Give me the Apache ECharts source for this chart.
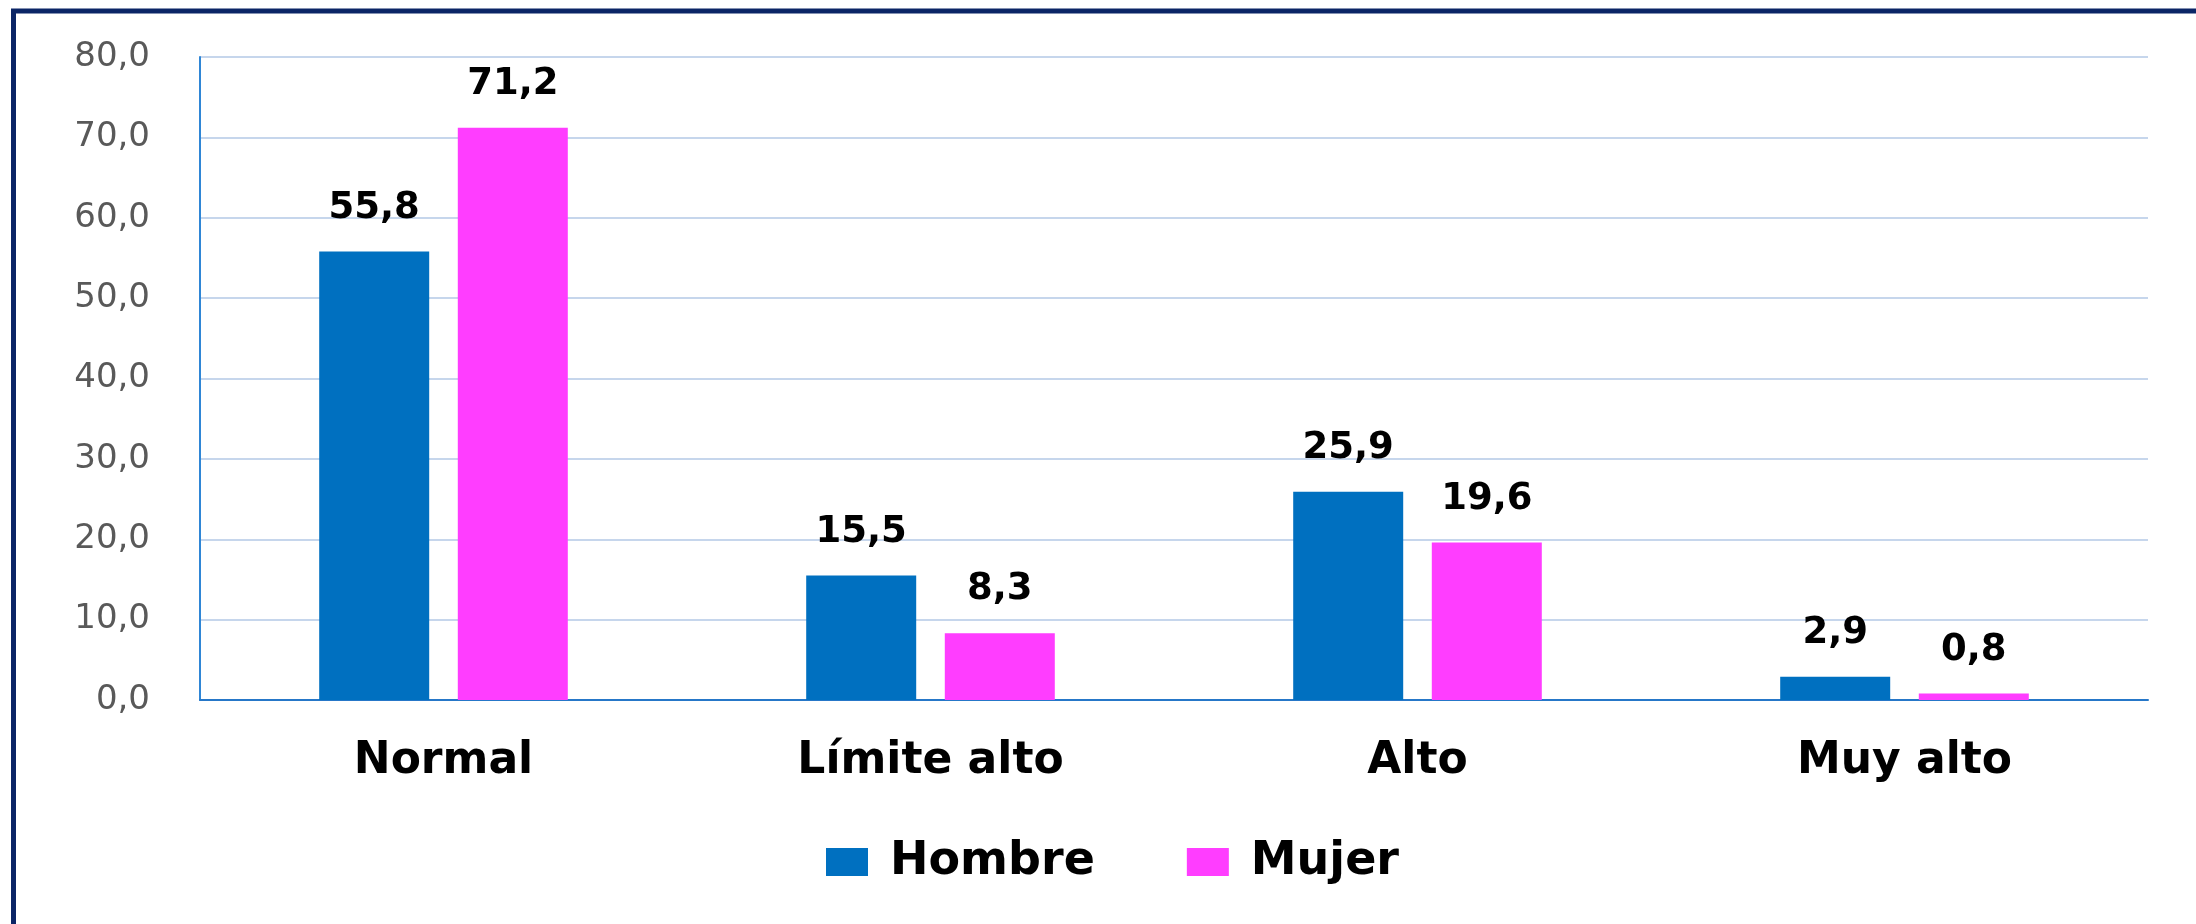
<!DOCTYPE html>
<html>
<head>
<meta charset="utf-8">
<title>Hombre / Mujer</title>
<script src="https://cdn.jsdelivr.net/npm/echarts@6/dist/echarts.min.js"></script>
<style>
    html, body { margin: 0; padding: 0; background: #fff; }
    #chart { width: 2196px; height: 924px; }
</style>
</head>
<body>
<div id="chart"></div>
<script>
// categorías y valores (%)
var categories = ['Normal', 'Límite alto', 'Alto', 'Muy alto'];
var hombre = [55.8, 15.5, 25.9, 2.9];
var mujer = [71.2, 8.3, 19.6, 0.8];
var seriesNames = ['Hombre', 'Mujer'];

var FONT = '"DejaVu Sans", sans-serif';

// 55.8 -> "55,8"
function coma(v) {
    return Number(v).toFixed(1).replace('.', ',');
}

var myChart = echarts.init(document.getElementById('chart'));

var barLabel = {
    show: true,
    position: 'top',
    distance: 25,
    color: '#000',
    fontFamily: FONT,
    fontWeight: 'bold',
    fontSize: 37,
    formatter: function (p) { return coma(p.value); }
};

var option = {
    animation: false,
    color: ['#0070C0', '#FF3DFF'],
    textStyle: { fontFamily: FONT },
    // marco azul oscuro (solo se ven el borde izquierdo y el superior)
    graphic: [{
        type: 'rect',
        silent: true,
        shape: { x: 13.5, y: 11, width: 2400, height: 1200 },
        style: { fill: 'none', stroke: '#0b2566', lineWidth: 5 }
    }],
    grid: {
        left: 200,
        right: 48,
        top: 57,
        bottom: 224
    },
    legend: {
        data: seriesNames,
        left: 821,
        top: 834,
        itemWidth: 42,
        itemHeight: 28,
        itemGap: 92,
        icon: 'rect',
        textStyle: {
            fontFamily: FONT,
            fontWeight: 'bold',
            fontSize: 46,
            color: '#000',
            padding: [0, 0, 0, 17]
        }
    },
    xAxis: {
        type: 'category',
        data: categories,
        axisLine: { lineStyle: { color: '#2677c8', width: 2 } },
        axisTick: { show: false },
        axisLabel: {
            margin: 40,
            color: '#000',
            fontFamily: FONT,
            fontWeight: 'bold',
            fontSize: 44
        }
    },
    yAxis: {
        type: 'value',
        min: 0,
        max: 80,
        interval: 10,
        axisLine: { show: true, lineStyle: { color: '#2f86d6', width: 2 } },
        axisTick: { show: false },
        splitLine: { lineStyle: { color: '#c6d6ec', width: 2 } },
        axisLabel: {
            margin: 50,
            color: '#595959',
            fontFamily: FONT,
            fontSize: 34,
            formatter: coma
        }
    },
    series: [{
        name: seriesNames[0],
        type: 'bar',
        data: hombre,
        barWidth: 110,
        barGap: '26%',
        label: barLabel
    }, {
        name: seriesNames[1],
        type: 'bar',
        data: mujer,
        barWidth: 110,
        barGap: '26%',
        label: barLabel
    }]
};

myChart.setOption(option);
</script>
</body>
</html>
